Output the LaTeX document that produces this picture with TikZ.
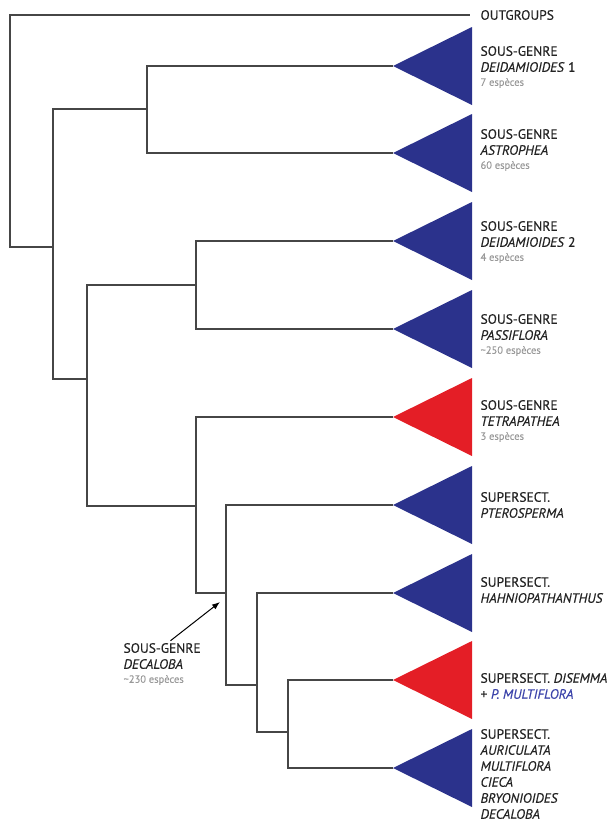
\documentclass[tikz,border=0pt]{standalone}
\usepackage{fontspec}
\setmainfont{PT Sans}[FakeBold=0.35]
\usetikzlibrary{arrows.meta}
\definecolor{bleu}{RGB}{43,50,140}
\definecolor{rouge}{RGB}{228,30,38}
\definecolor{trait}{RGB}{70,70,70}
\definecolor{texte}{RGB}{35,35,35}
\definecolor{bleutxt}{RGB}{60,68,170}
\newcommand{\nbsp}[1]{{\color{gray!80}\fontsize{10.5}{13}\selectfont #1}}
\begin{document}
\begin{tikzpicture}[x=1pt,y=-1pt,line width=1.1pt,draw=trait,font=\fontsize{13.5}{16}\selectfont]
	\useasboundingbox (0,0)rectangle(612,825);
	\tikzset{clade/.pic={
	\fill(0,0)--(79,-39)--(79,39)--cycle;
	}}
	\tikzset{lab/.style={anchor=west,align=left,inner sep=0pt,text=texte}}
	\foreach \n/\y in {1/66,2/153,3/241,4/329,5/417,6/505,7/593,8/680,9/768}
	\coordinate (l\n) at (393,\y);
	\coordinate (og) at (470,15);
	\coordinate (R) at (10,131);
	\coordinate (A) at (53,247);
	\coordinate (B) at (147,109);
	\coordinate (C) at (87,379);
	\coordinate (D) at (196,285);
	\coordinate (E) at (196,506);
	\coordinate (F) at (226,593);
	\coordinate (G) at (257,685);
	\coordinate (H) at (288,732);
	\draw (R)|-(og) (R)|-(A) (A)|-(B) (A)|-(C) (B)|-(l1) (B)|-(l2)
	(C)|-(D) (C)|-(E) (D)|-(l3) (D)|-(l4) (E)|-(l5) (E)|-(F)
	(F)|-(l6) (F)|-(G) (G)|-(l7) (G)|-(H) (H)|-(l8) (H)|-(l9);
	\foreach \n/\c in {1/bleu,2/bleu,3/bleu,4/bleu,5/rouge,6/bleu,7/bleu,8/rouge,9/bleu}
	\path(l\n)pic[\c]{clade};
	\node[lab] (tog) at (480,15) {OUTGROUPS};
	\node[lab] (t1) at (480,67) {SOUS-GENRE\\\textit{DEIDAMIOIDES} 1\\[-2pt]\nbsp{7 espèces}};
	\node[lab] (t2) at (480,150) {SOUS-GENRE\\\textit{ASTROPHEA}\\[-2pt]\nbsp{60 espèces}};
	\node[lab] (t3) at (480,242) {SOUS-GENRE\\\textit{DEIDAMIOIDES} 2\\[-2pt]\nbsp{4 espèces}};
	\node[lab] (t4) at (480,335) {SOUS-GENRE\\\textit{PASSIFLORA}\\[-2pt]\nbsp{\textasciitilde250 espèces}};
	\node[lab] (t5) at (480,421) {SOUS-GENRE\\\textit{TETRAPATHEA}\\[-2pt]\nbsp{3 espèces}};
	\node[lab] (t6) at (480,505) {SUPERSECT.\\\textit{PTEROSPERMA}};
	\node[lab] (t7) at (480,590) {SUPERSECT.\\\textit{HAHNIOPATHANTHUS}};
	\node[lab] (t8) at (480,686) {SUPERSECT. \textit{DISEMMA}\\+ {\color{bleutxt}\textit{P. MULTIFLORA}}};
	\node[lab] (t9) at (480,774) {SUPERSECT.\\\textit{AURICULATA}\\\textit{MULTIFLORA}\\\textit{CIECA}\\\textit{BRYONIOIDES}\\\textit{DECALOBA}};
	\node[lab] (dec) at (123,664) {SOUS-GENRE\\\textit{DECALOBA}\\[-2pt]\nbsp{\textasciitilde230 espèces}};
	\coordinate (fl) at (220,602);
	\draw[black,line width=1pt,-{Latex[length=8pt,width=6pt]},shorten <=3pt] ([xshift=6pt]dec.north)--(fl);
\end{tikzpicture}
\end{document}
